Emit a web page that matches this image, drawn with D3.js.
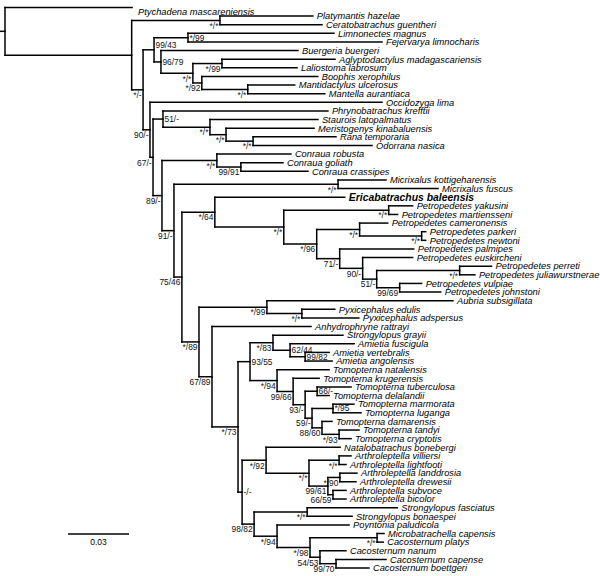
<!DOCTYPE html>
<html><head><meta charset="utf-8">
<script src="https://cdn.jsdelivr.net/npm/d3@7"></script>
<style>body{margin:0;background:#fff} svg{display:block}</style>
</head><body>
<svg id="chart" width="600" height="576"></svg>
<script>
// Each row: [node id, parent id, branch length (subst./site), support "ML bootstrap/Bayesian"]
const outgroupRows = [
  ["root", null, 0, ""],
  ["Ptychadena mascareniensis", "root", 0.0625, ""],
  ["A", "root", 0.0623, ""],
  ["PC", "A", 0.0434, "*/*"],
  ["Platymantis hazelae", "PC", 0.0457, ""],
  ["Ceratobatrachus guentheri", "PC", 0.0502, ""],
  ["B", "A", 0.0056, "*/-"]
];
const dicroMantellaRows = [
  ["D1", "B", 0.0054, "99/43"],
  ["DG", "D1", 0.0167, "*/99"],
  ["Limnonectes magnus", "DG", 0.0718, ""],
  ["Fejervarya limnocharis", "DG", 0.0954, ""],
  ["M1", "D1", 0.0034, "96/79"],
  ["Buergeria buergeri", "M1", 0.0674, ""],
  ["M2", "M1", 0.0157, "*/*"],
  ["AL", "M2", 0.0143, "*/99"],
  ["Aglyptodactylus madagascariensis", "AL", 0.0556, ""],
  ["Laliostoma labrosum", "AL", 0.0369, ""],
  ["BM", "M2", 0.0044, "*/92"],
  ["Boophis xerophilus", "BM", 0.0570, ""],
  ["MM", "BM", 0.0226, "*/*"],
  ["Mantidactylus ulcerosus", "MM", 0.0231, ""],
  ["Mantella aurantiaca", "MM", 0.0379, ""]
];
const ranoidRows = [
  ["C", "B", 0.0034, "90/-"],
  ["Occidozyga lima", "C", 0.1141, ""],
  ["D", "C", 0.0015, "67/-"],
  ["P", "D", 0.0049, "51/-"],
  ["Phrynobatrachus krefftii", "P", 0.0811, ""],
  ["R1", "P", 0.0231, "*/*"],
  ["Staurois latopalmatus", "R1", 0.0531, ""],
  ["R2", "R1", 0.0079, "*/*"],
  ["Meristogenys kinabaluensis", "R2", 0.0433, ""],
  ["R3", "R2", 0.0133, "*/*"],
  ["Rana temporaria", "R3", 0.0408, ""],
  ["Odorrana nasica", "R3", 0.0585, ""],
  ["E", "D", 0.0044, "89/-"],
  ["Cn", "E", 0.0270, "*/*"],
  ["Conraua robusta", "Cn", 0.0364, ""],
  ["Cn2", "Cn", 0.0118, "99/91"],
  ["Conraua goliath", "Cn2", 0.0207, ""],
  ["Conraua crassipes", "Cn2", 0.0330, ""],
  ["F", "E", 0.0059, "91/-"],
  ["Mx", "F", 0.0807, "*/*"],
  ["Micrixalus kottigeharensis", "Mx", 0.0236, ""],
  ["Micrixalus fuscus", "Mx", 0.0492, ""],
  ["G", "F", 0.0039, "75/46"]
];
const petropedetidRows = [
  ["H", "G", 0.0162, "*/64"],
  ["Ericabatrachus baleensis", "H", 0.0639, ""],
  ["I", "H", 0.0339, "*/*"],
  ["Y", "I", 0.0516, "*/*"],
  ["Petropedetes yakusini", "Y", 0.0118, ""],
  ["Petropedetes martiensseni", "Y", 0.0044, ""],
  ["J", "I", 0.0162, "*/96"],
  ["K", "J", 0.0211, "*/*"],
  ["Petropedetes cameronensis", "K", 0.0138, ""],
  ["L", "K", 0.0305, "*/*"],
  ["Petropedetes parkeri", "L", 0.0020, ""],
  ["Petropedetes newtoni", "L", 0.0020, ""],
  ["M", "J", 0.0113, "71/-"],
  ["Petropedetes palmipes", "M", 0.0364, ""],
  ["N", "M", 0.0113, "90/-"],
  ["Petropedetes euskircheni", "N", 0.0246, ""],
  ["O", "N", 0.0069, "51/-"],
  ["Q", "O", 0.0408, "*/*"],
  ["Petropedetes perreti", "Q", 0.0157, ""],
  ["Petropedetes juliawurstnerae", "Q", 0.0075, ""],
  ["V", "O", 0.0113, "99/69"],
  ["Petropedetes vulpiae", "V", 0.0108, ""],
  ["Petropedetes johnstoni", "V", 0.0202, ""]
];
const pyxicephalidRows = [
  ["G2", "G", 0.0084, "*/89"],
  ["PA", "G2", 0.0334, "*/99"],
  ["Aubria subsigillata", "PA", 0.0915, ""],
  ["PP", "PA", 0.0172, "*/*"],
  ["Pyxicephalus edulis", "PP", 0.0162, ""],
  ["Pyxicephalus adspersus", "PP", 0.0280, ""],
  ["G3", "G2", 0.0064, "67/89"],
  ["Anhydrophryne rattrayi", "G3", 0.0487, ""],
  ["G4", "G3", 0.0128, "*/73"],
  ["S", "G4", 0.0059, "93/55"],
  ["Am", "S", 0.0113, "*/83"],
  ["Strongylopus grayii", "Am", 0.0344, ""],
  ["Am2", "Am", 0.0084, "62/44"],
  ["Amietia fuscigula", "Am2", 0.0315, ""],
  ["Am3", "Am2", 0.0074, "99/82"],
  ["Amietia vertebralis", "Am3", 0.0118, ""],
  ["Amietia angolensis", "Am3", 0.0133, ""]
];
const tomopternaRows = [
  ["To", "S", 0.0133, "*/94"],
  ["Tomopterna natalensis", "To", 0.0256, ""],
  ["To2", "To", 0.0079, "99/66"],
  ["Tomopterna krugerensis", "To2", 0.0128, ""],
  ["To3", "To2", 0.0059, "93/-"],
  ["TD", "To3", 0.0059, "66/-"],
  ["Tomopterna tuberculosa", "TD", 0.0167, ""],
  ["Tomopterna delalandii", "TD", 0.0059, ""],
  ["To4", "To3", 0.0034, "59/-"],
  ["MLu", "To4", 0.0103, "*/95"],
  ["Tomopterna marmorata", "MLu", 0.0103, ""],
  ["Tomopterna luganga", "MLu", 0.0138, ""],
  ["To5", "To4", 0.0049, "88/60"],
  ["Tomopterna damarensis", "To5", 0.0049, ""],
  ["TC", "To5", 0.0084, "*/93"],
  ["Tomopterna tandyi", "TC", 0.0098, ""],
  ["Tomopterna cryptotis", "TC", 0.0059, ""]
];
const capeRows = [
  ["T", "G4", 0.0020, "-/-"],
  ["U", "T", 0.0118, "*/92"],
  ["Natalobatrachus bonebergi", "U", 0.0364, ""],
  ["Ar", "U", 0.0211, "*/*"],
  ["VL", "Ar", 0.0148, "*/*"],
  ["Arthroleptella villiersi", "VL", 0.0059, ""],
  ["Arthroleptella lightfooti", "VL", 0.0034, ""],
  ["Ar2", "Ar", 0.0093, "99/61"],
  ["LD", "Ar2", 0.0059, "*/90"],
  ["Arthroleptella landdrosia", "LD", 0.0084, ""],
  ["Arthroleptella drewesii", "LD", 0.0079, ""],
  ["SB", "Ar2", 0.0025, "66/59"],
  ["Arthroleptella subvoce", "SB", 0.0064, ""],
  ["Arthroleptella bicolor", "SB", 0.0064, ""],
  ["W", "T", 0.0059, "98/82"],
  ["SF", "W", 0.0261, "*/*"],
  ["Strongylopus fasciatus", "SF", 0.0443, ""],
  ["Strongylopus bonaespei", "SF", 0.0221, ""],
  ["X", "W", 0.0113, "*/94"],
  ["Poyntonia paludicola", "X", 0.0354, ""],
  ["X2", "X", 0.0162, "*/98"],
  ["MC", "X2", 0.0330, "*/*"],
  ["Microbatrachella capensis", "MC", 0.0034, ""],
  ["Cacosternum platys", "MC", 0.0030, ""],
  ["X3", "X2", 0.0049, "54/53"],
  ["Cacosternum nanum", "X3", 0.0128, ""],
  ["CB", "X3", 0.0079, "99/70"],
  ["Cacosternum capense", "CB", 0.0246, ""],
  ["Cacosternum boettgeri", "CB", 0.0162, ""]
];
const boldTaxa = ["Ericabatrachus baleensis"];
const loweredTaxa = ["Ptychadena mascareniensis"];
const supportRightOf = ["DG", "M1", "P", "S", "Am2", "Am3", "TD", "MLu", "T"];
const supportAbove = ["D1"];
const scaleBarValue = 0.03;
const scaleBarText = "0.03";

const allRows = [].concat(outgroupRows, dicroMantellaRows, ranoidRows, petropedetidRows,
  pyxicephalidRows, tomopternaRows, capeRows);

const root = d3.stratify().id(r => r[0]).parentId(r => r[1])(allRows);
root.eachBefore(n => { n.dist = n.parent ? n.parent.dist + n.data[2] : 0; });
const leaves = root.leaves();

const x = d3.scaleLinear().domain([0, scaleBarValue]).range([5, 66]);
const y = d3.scaleLinear().domain([0, leaves.length - 1]).range([7.5, 568]);
leaves.forEach((l, i) => { l.py = y(i); });
root.eachAfter(n => {
  n.px = x(n.dist);
  if (n.children) n.py = (n.children[0].py + n.children[n.children.length - 1].py) / 2;
});

const svg = d3.select("#chart");
const font = "'Liberation Sans', Arial, Helvetica, sans-serif";
const g = svg.append("g").attr("fill", "none").attr("stroke", "#000")
  .attr("stroke-width", 1.5).attr("stroke-linecap", "square");

g.append("path").attr("d", `M0,${root.py}H${root.px}`);
g.selectAll("path.h").data(root.descendants().filter(n => n.parent)).join("path")
  .attr("class", "h").attr("d", n => `M${n.parent.px},${n.py}H${n.px}`);
g.selectAll("path.v").data(root.descendants().filter(n => n.children)).join("path")
  .attr("class", "v")
  .attr("d", n => `M${n.px},${n.children[0].py}V${n.children[n.children.length - 1].py}`);

svg.append("g").selectAll("text").data(leaves).join("text")
  .attr("x", n => n.px + (loweredTaxa.includes(n.id) ? 6 : 4))
  .attr("y", n => n.py + 3.3 + (loweredTaxa.includes(n.id) ? 4.5 : 0))
  .attr("font-family", font).attr("font-style", "italic")
  .attr("font-weight", n => boldTaxa.includes(n.id) ? "bold" : "normal")
  .attr("font-size", n => boldTaxa.includes(n.id) ? 10.4 : 9.3)
  .text(n => n.id);

const supported = root.descendants().filter(n => n.children && n.data[3]);
const isRight = n => supportRightOf.includes(n.id) || supportAbove.includes(n.id);
svg.append("g").selectAll("text").data(supported).join("text")
  .attr("font-family", font).attr("font-size", 8.4).attr("fill", "#111")
  .attr("text-anchor", n => isRight(n) ? "start" : "end")
  .attr("x", n => isRight(n) ? n.px + 1.5 : n.px - 1.5)
  .attr("y", n => supportAbove.includes(n.id) ? n.py - 2 : supportRightOf.includes(n.id) ? n.py + 3 : n.py + 8.3)
  .text(n => n.data[3]);

const sb = svg.append("g");
sb.append("line").attr("x1", 68).attr("x2", 68 + x(scaleBarValue) - x(0))
  .attr("y1", 534).attr("y2", 534).attr("stroke", "#000").attr("stroke-width", 1.5);
sb.append("text").attr("x", 68 + (x(scaleBarValue) - x(0)) / 2).attr("y", 544.5)
  .attr("text-anchor", "middle").attr("font-family", font).attr("font-size", 8.5)
  .text(scaleBarText);
</script>
</body></html>
